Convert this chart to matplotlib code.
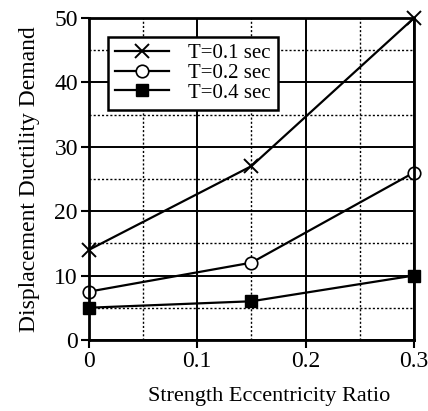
import numpy as np
import matplotlib
matplotlib.use('Agg')
import matplotlib.pyplot as plt
from matplotlib.ticker import MultipleLocator

# strength eccentricity ratio vs ductility demand
ecc = [0.0, 0.15, 0.3]
t01 = [14.0, 27.0, 50.0]
t02 = [7.5, 12.0, 26.0]
t04 = [5.0, 6.0, 10.0]
labels = ['T=0.1 sec', 'T=0.2 sec', 'T=0.4 sec']

plt.rcParams['font.family'] = ['Liberation Serif', 'DejaVu Serif']

fig = plt.figure(figsize=(4.28, 4.11), dpi=100)
ax = fig.add_axes([0.208, 0.173, 0.759, 0.783])

ax.plot(ecc, t01, color='black', lw=1.6, marker='x', ms=10, mew=1.4, label=labels[0], clip_on=False)
ax.plot(ecc, t02, color='black', lw=1.6, marker='o', ms=9, mfc='white', mew=1.2, label=labels[1], clip_on=False)
ax.plot(ecc, t04, color='black', lw=1.6, marker='s', ms=8, label=labels[2], clip_on=False)

ax.set_xlim(0, 0.3)
ax.set_ylim(0, 50)
ax.xaxis.set_minor_locator(MultipleLocator(0.05))
ax.yaxis.set_major_locator(MultipleLocator(10))
ax.yaxis.set_minor_locator(MultipleLocator(5))
ax.set_xticks([0, 0.1, 0.2, 0.3])
ax.set_xticklabels(['0', '0.1', '0.2', '0.3'])

ax.grid(which='major', color='black', lw=1.4, ls='-')
ax.grid(which='minor', color='black', lw=1.0, ls=(0, (1.5, 1.5)))
ax.set_axisbelow(True)
for s in ax.spines.values():
    s.set_linewidth(2)
ax.tick_params(which='major', direction='out', length=6, width=1.5, labelsize=17, pad=2)
ax.tick_params(which='minor', length=0)

ax.set_xlabel('Strength Eccentricity Ratio', fontsize=16)
ax.xaxis.set_label_coords(0.555, -0.177)
ax.xaxis.label.set_va('center')
ax.set_ylabel('Displacement Ductility Demand', fontsize=17, labelpad=10)

leg = ax.legend(loc='upper left', bbox_to_anchor=(0.025, 0.975), fontsize=15,
                frameon=True, fancybox=False, framealpha=1, edgecolor='black',
                handlelength=2.6, borderpad=0.35, labelspacing=0.0, handletextpad=0.9)
leg.get_frame().set_linewidth(1.8)

fig.savefig('out.png', dpi=100)
